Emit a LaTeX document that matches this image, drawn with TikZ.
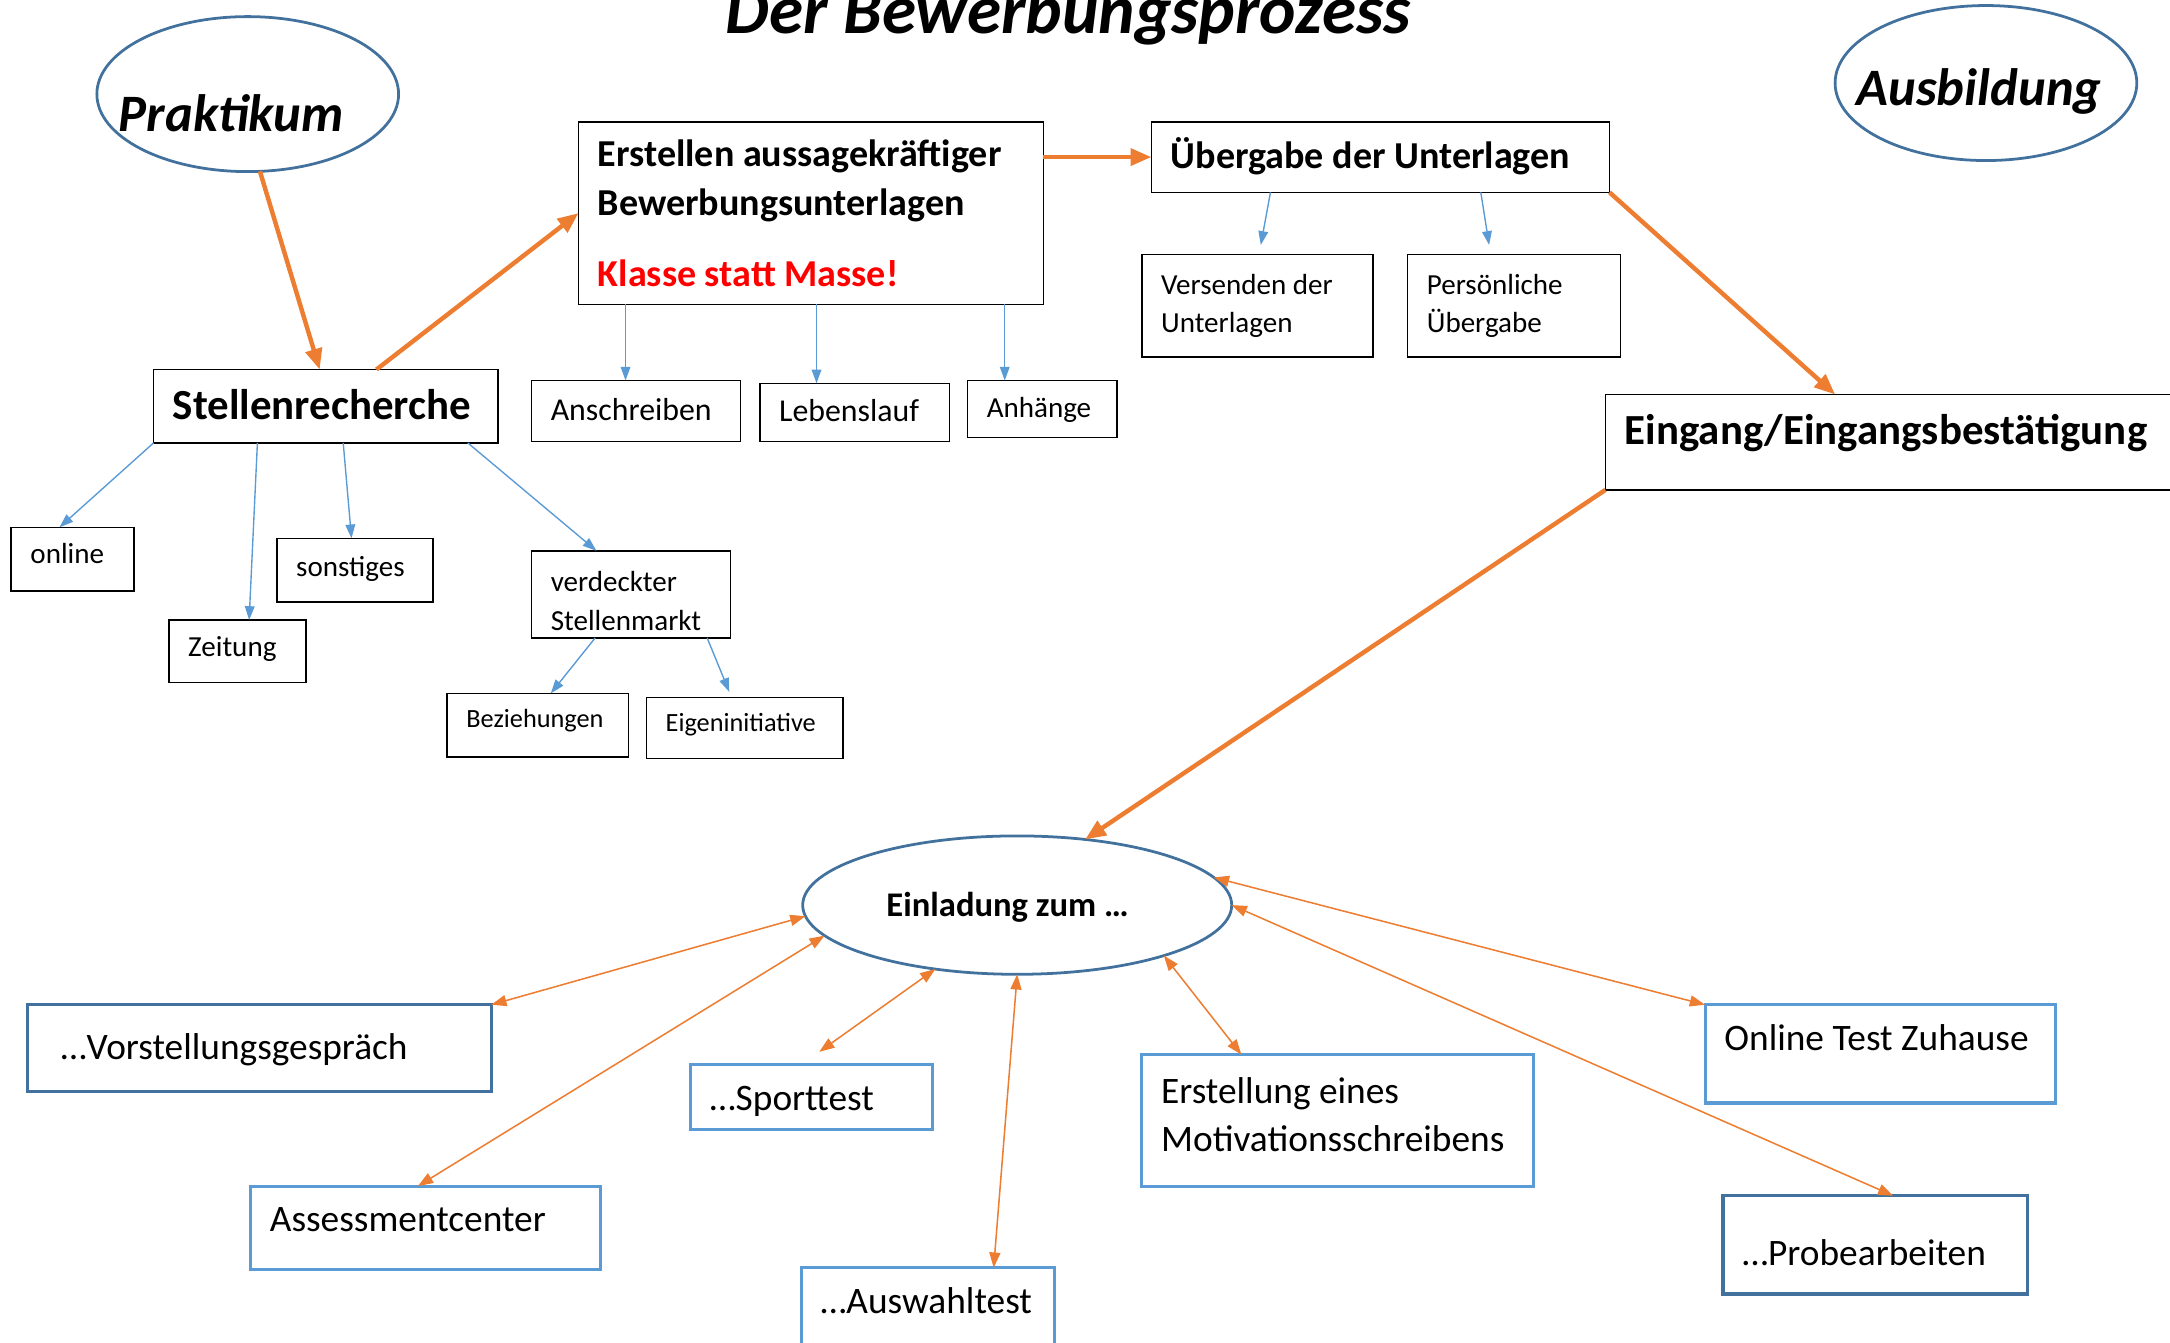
\documentclass[tikz,border=0pt]{standalone}
\usepackage{fontspec}
\setmainfont{Carlito}
\usetikzlibrary{arrows.meta,shapes.geometric}
\definecolor{orng}{HTML}{ED7D31}
\definecolor{blueA}{HTML}{5B9BD5}
\definecolor{blueD}{HTML}{41719C}
\hyphenpenalty=10000
\exhyphenpenalty=10000
\begin{document}
\begin{tikzpicture}[x=1pt,y=-1pt,
  bx/.style={draw=black, line width=1.1pt, rectangle, anchor=north west, inner xsep=14pt, inner ysep=0pt, outer sep=0pt, execute at begin node={\raggedright\spaceskip=0pt\xspaceskip=0pt\relax}},
  lbx/.style={bx, draw=blueA, line width=2.2pt},
  dbx/.style={bx, draw=blueD, line width=2.2pt},
  ell/.style={ellipse, draw=blueD, line width=2pt, inner sep=0pt, outer sep=0pt},
  hd/.style 2 args={text height=#1, text depth=#2},
  s19/.style={font=\fontsize{19}{25}\selectfont},
  s21/.style={font=\fontsize{21}{28}\selectfont},
  s23/.style={font=\fontsize{23}{30}\selectfont},
  s27/.style={font=\fontsize{27}{35}\selectfont},
  b27/.style={font=\fontsize{27.5}{36}\selectfont\bfseries},
  b31/.style={font=\fontsize{31}{38}\selectfont\bfseries},
  bi38/.style={font=\fontsize{38}{46}\selectfont\bfseries\itshape},
  thickA/.style={draw=orng, line width=3.2pt, -{Triangle[length=15pt,width=12pt]}},
  thinB/.style={draw=blueA, line width=1pt, -{Triangle[length=10pt,width=7pt]}},
  thinO/.style={draw=orng, line width=1.1pt, {Triangle[length=11pt,width=8pt]}-{Triangle[length=11pt,width=8pt]}}
]
\useasboundingbox (0,0) rectangle (1568,970);
\clip (0,0) rectangle (1568,970);

% title
\node[font=\fontsize{50}{60}\selectfont\bfseries\itshape, anchor=base, inner sep=0pt] (title) at (772,24) {Der Bewerbungsprozess};

% ellipses
\node[ell, bi38, minimum width=218pt, minimum height=112pt, text height=54pt, text depth=0pt] (prak) at (179,68) {\makebox[0pt]{Praktikum\hspace*{24pt}}};
\node[ell, bi38, minimum width=218pt, minimum height=112pt, text height=33pt, text depth=0pt] (ausb) at (1435,60) {\makebox[0pt]{Ausbildung\hspace*{10pt}}};
\node[ell, font=\fontsize{25}{30}\selectfont\bfseries, minimum width=310pt, minimum height=100pt, text height=17pt, text depth=0pt] (einl) at (735,654) {\makebox[0pt]{Einladung zum …\hspace*{14pt}}};

% top boxes
\node[bx,b27,minimum width=336pt,minimum height=132pt,text width=308pt] (erst) at (418,88) {Erstellen aussagekräftiger\\Bewerbungsunterlagen\\[15pt]\textcolor{red}{Klasse statt Masse!}};
\node[bx,b27,hd={22pt}{5.5pt},minimum width=331pt,minimum height=51pt,text width=303pt] (ueb) at (832,88) {Übergabe~der~Unterlagen};
\node[bx,s21,minimum width=167pt,minimum height=74pt,text width=139pt] (vers) at (825,184) {Versenden der\\Unterlagen};
\node[bx,s21,minimum width=154pt,minimum height=74pt,text width=126pt] (pers) at (1017,184) {Persönliche\\Übergabe};
\node[bx,b31,hd={24.8pt}{6.2pt},minimum width=249pt,minimum height=53pt,text width=221pt] (sr) at (111,267) {Stellenrecherche};
\node[bx,s23,hd={18.4pt}{4.6pt},minimum width=151pt,minimum height=44pt,text width=123pt] (ansch) at (384,275) {Anschreiben};
\node[bx,s23,hd={18.4pt}{4.6pt},minimum width=137pt,minimum height=42pt,text width=109pt] (leben) at (549,277) {Lebenslauf};
\node[bx,s21,hd={16.8pt}{4.2pt},minimum width=108pt,minimum height=41pt,text width=80pt] (anh) at (699,275) {Anhänge};
\node[bx,b31,hd={24.8pt}{21.2pt},minimum width=420pt,minimum height=69pt,text width=392pt] (eing) at (1160,285) {Eingang/Eingangsbestätigung};

% search boxes
\node[bx,s21,hd={16.8pt}{10.2pt},minimum width=89pt,minimum height=46pt,text width=61pt] (online) at (8,381) {online};
\node[bx,s21,hd={16.8pt}{9.2pt},minimum width=99pt,minimum height=45pt,text width=71pt] (zeit) at (122,448) {Zeitung};
\node[bx,s21,hd={16.8pt}{8.2pt},minimum width=113pt,minimum height=46pt,text width=85pt] (sonst) at (200,389) {sonstiges};
\node[bx,s21,minimum width=144pt,minimum height=63pt,text width=116pt] (verd) at (384,398) {\mbox{}\\[-4pt]verdeckter\\Stellenmarkt};
\node[bx,s19,hd={15.2pt}{11.8pt},minimum width=131pt,minimum height=46pt,text width=103pt] (bez) at (323,501) {Beziehungen};
\node[bx,s19,hd={15.2pt}{9.8pt},minimum width=142pt,minimum height=44pt,text width=114pt] (eigen) at (467,504) {Eigeninitiative};

% bottom boxes
\node[dbx,s27,hd={21.6pt}{5.4pt},minimum width=335pt,minimum height=63pt,text width=307pt] (vorst) at (20,726) {\hspace*{10pt}…Vorstellungsgespräch};
\node[lbx,s27,hd={21.6pt}{15.4pt},minimum width=253pt,minimum height=60pt,text width=225pt] (assess) at (181,857) {Assessmentcenter};
\node[lbx,s27,hd={24.6pt}{5.4pt},minimum width=175pt,minimum height=47pt,text width=147pt] (sport) at (499,769) {…Sporttest};
\node[lbx,s27,hd={21.6pt}{19.4pt},minimum width=183pt,minimum height=64pt,text width=155pt] (ausw) at (579,916) {…Auswahltest};
\node[lbx,s27,minimum width=283pt,minimum height=95pt,text width=255pt] (motiv) at (825,762) {Erstellung eines\\Motivationsschreibens\\[-27pt]\mbox{}};
\node[lbx,s27,hd={21.6pt}{26.4pt},minimum width=253pt,minimum height=71pt,text width=225pt] (onl) at (1232,726) {Online~Test~Zuhause};
\node[dbx,s27,hd={34.6pt}{5.4pt},minimum width=220pt,minimum height=71pt,text width=192pt] (probe) at (1245,864) {…Probearbeiten};

% main flow
\draw[thickA] (prak.-81) -- ([xshift=-4.5pt]sr.north);
\draw[thickA] ([xshift=36.5pt]sr.north) -- (erst.west);
\draw[thickA] (erst.east |- ueb.west) -- (ueb.west);
\draw[thickA] (ueb.south east) -- ([xshift=166pt]eing.north west);
\draw[thickA] (eing.south west) -- (einl.44);

% blue sub-arrows
\draw[thinB] ([xshift=34pt]erst.south west) -- ([xshift=68pt]ansch.north west);
\draw[thinB] ([xshift=172pt]erst.south west) -- ([xshift=41pt]leben.north west);
\draw[thinB] ([xshift=308pt]erst.south west) -- ([xshift=27pt]anh.north west);
\draw[thinB] ([xshift=86pt]ueb.south west) -- ([xshift=86pt,yshift=7pt]vers.north west);
\draw[thinB] ([xshift=238pt]ueb.south west) -- ([xshift=59pt,yshift=7pt]pers.north west);
\draw[thinB] (sr.south west) -- ([xshift=35pt]online.north west);
\draw[thinB] ([xshift=75pt]sr.south west) -- ([xshift=58pt]zeit.north west);
\draw[thinB] ([xshift=137pt]sr.south west) -- ([xshift=54pt]sonst.north west);
\draw[thinB] ([xshift=227pt]sr.south west) -- ([xshift=47pt]verd.north west);
\draw[thinB] ([xshift=46pt]verd.south west) -- ([xshift=75pt]bez.north west);
\draw[thinB] ([xshift=127pt]verd.south west) -- ([xshift=60pt,yshift=4pt]eigen.north west);

% orange double arrows
\draw[thinO] (einl.183) -- (vorst.north east);
\draw[thinO] (einl.189) -- ([xshift=121pt]assess.north west);
\draw[thinO] (einl.218) -- ([xshift=93pt,yshift=9pt]sport.north west);
\draw[thinO] (einl.south) -- ([xshift=139pt]ausw.north west);
\draw[thinO] (einl.-19) -- ([xshift=72pt]motiv.north west);
\draw[thinO] (einl.8) -- (onl.north west);
\draw[thinO] (einl.east) -- ([xshift=123pt]probe.north west);
\end{tikzpicture}
\end{document}
